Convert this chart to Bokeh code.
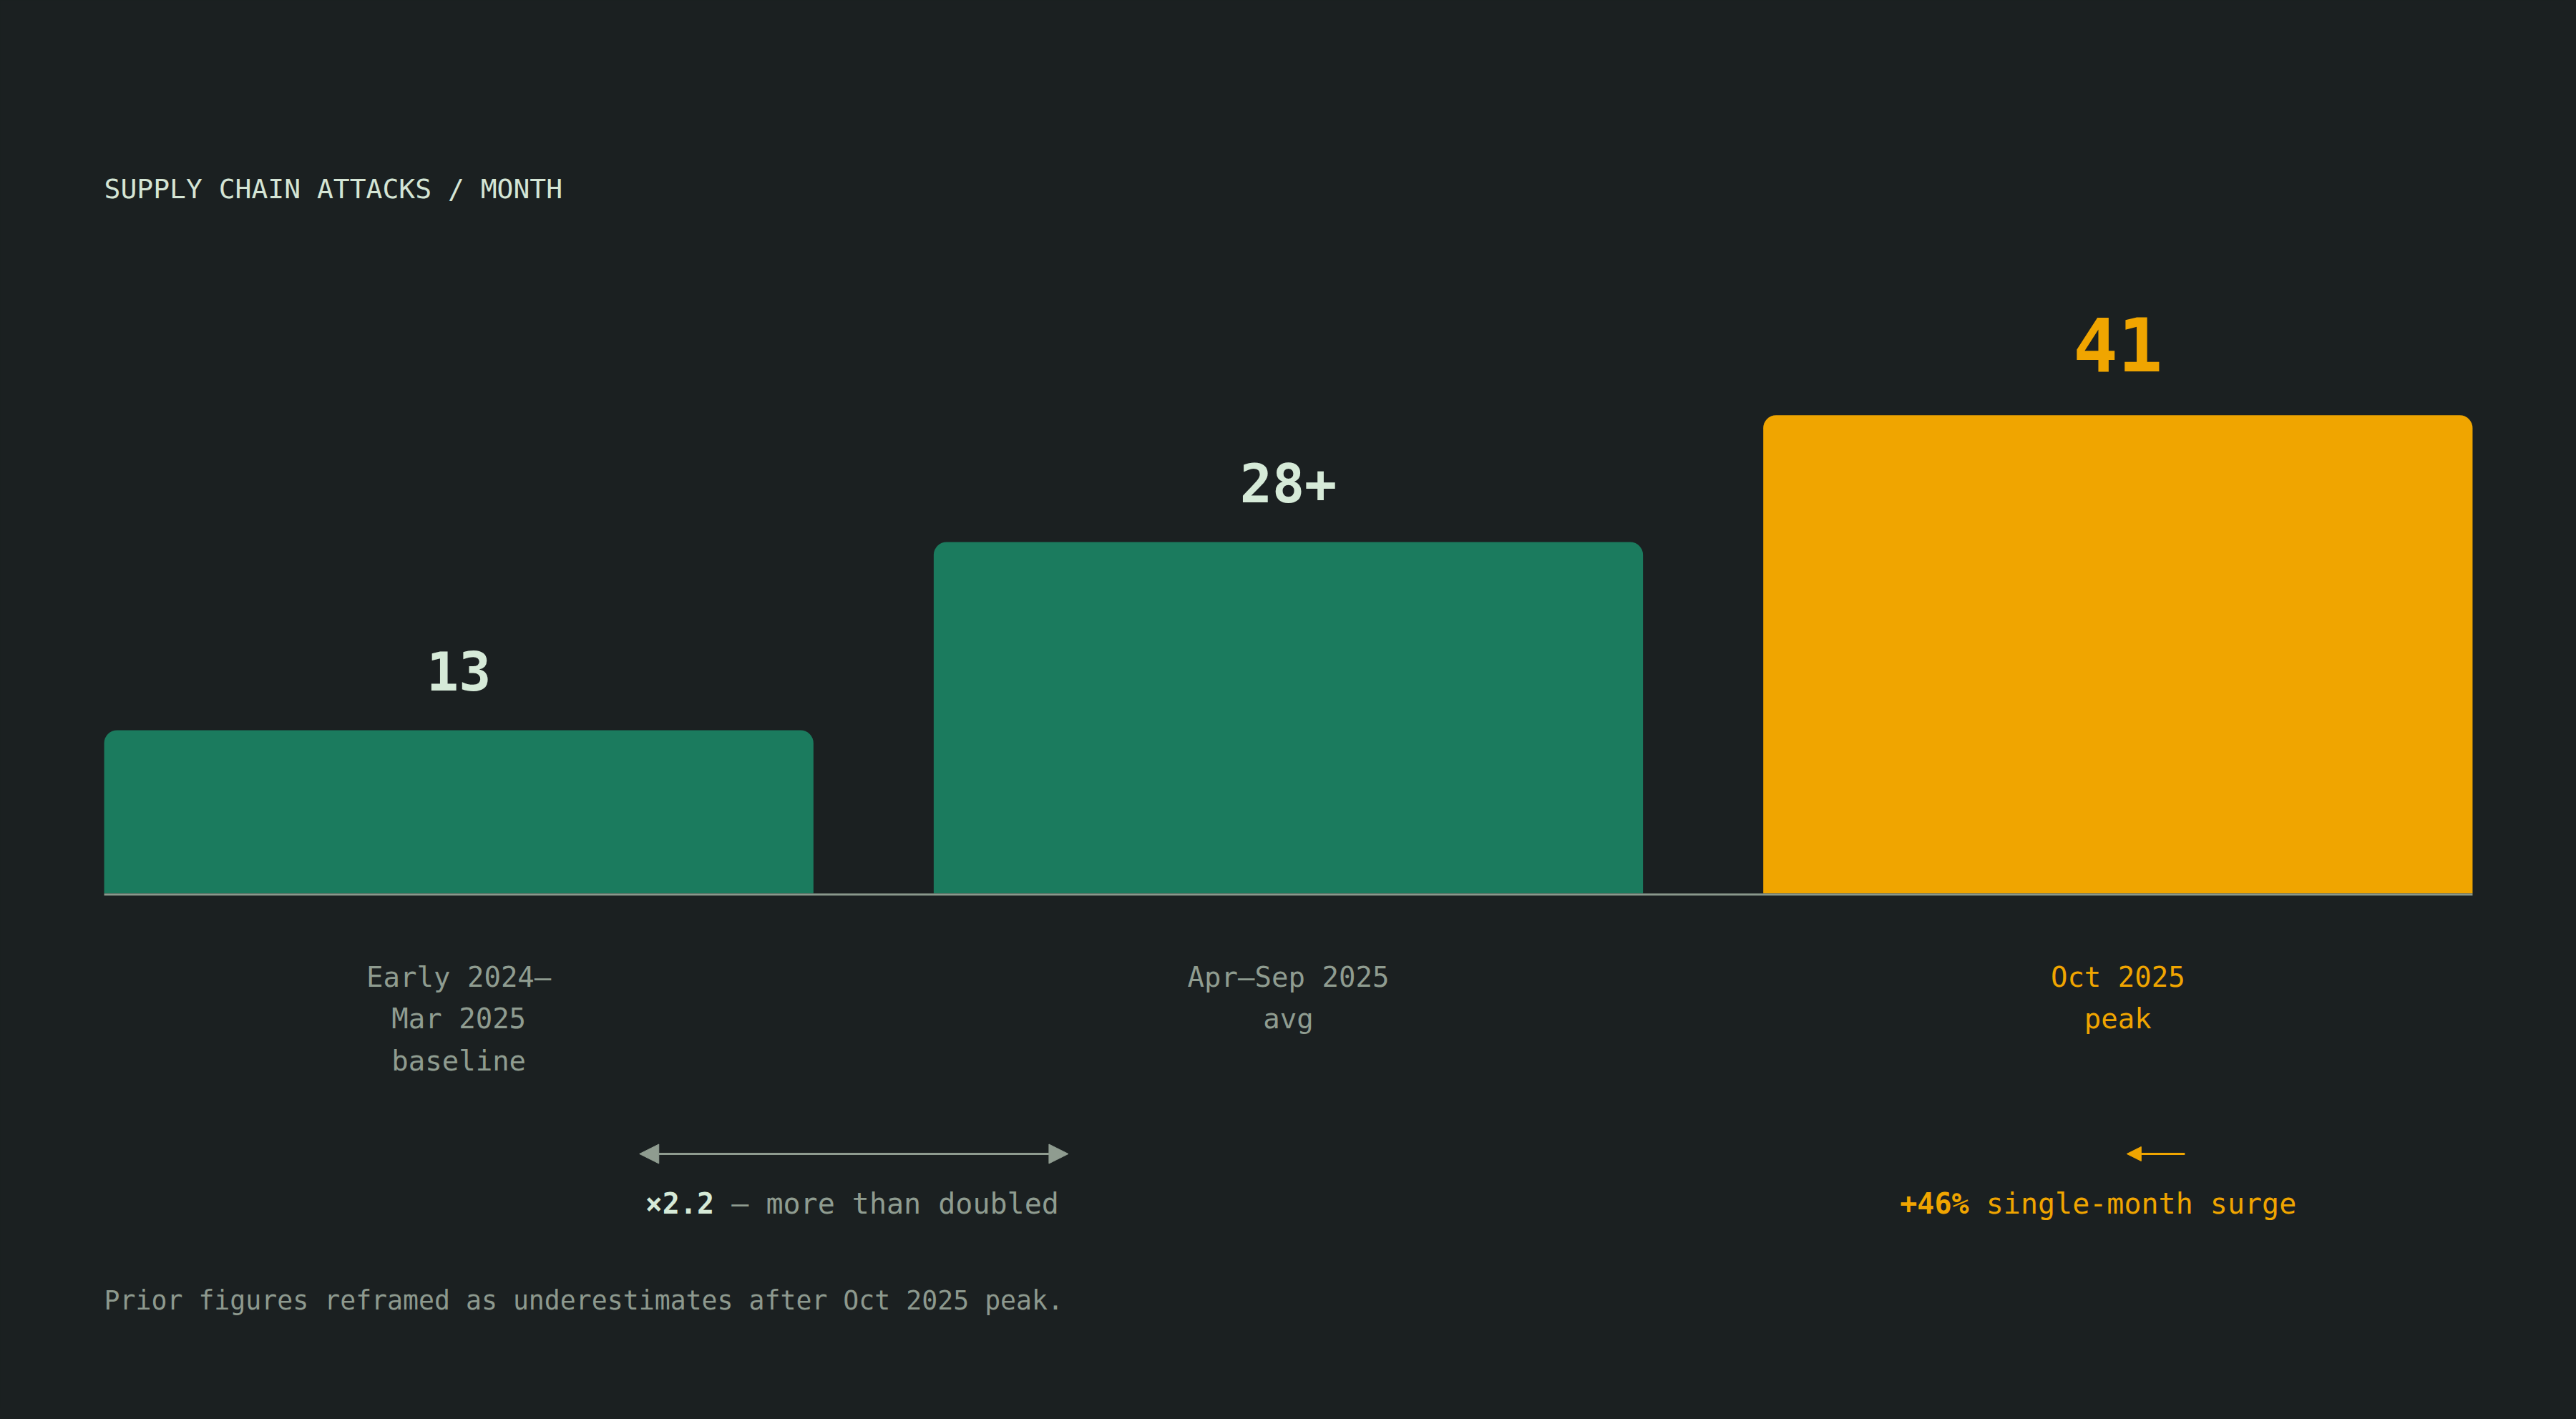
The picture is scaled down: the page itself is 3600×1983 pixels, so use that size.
from bokeh.plotting import figure
from bokeh.models import ColumnDataSource, Range1d, Arrow, NormalHead, GlobalInlineStyleSheet
from bokeh.core.properties import value
from bokeh.embed import file_html
from bokeh.resources import INLINE

# ---------------- data ----------------
categories = ["Early 2024\u2013\nMar 2025\nbaseline", "Apr\u2013Sep 2025\navg", "Oct 2025\npeak"]
bar_heights = [13, 28, 38.1]
value_labels = ["13", "28+", "41"]
highlight = [False, False, True]

title_text = "SUPPLY CHAIN ATTACKS / MONTH"
footnote_text = "Prior figures reframed as underestimates after Oct 2025 peak."
growth_bold, growth_rest = "\u00d72.2", "\u2014 more than doubled"
surge_bold, surge_rest = "+46%", "single-month surge"

# ---------------- style ----------------
BG = "#1b2021"
GREEN = "#1b7b5e"
ORANGE = "#f0a500"
MUTED = "#8f9c90"
LIGHT = "#d6ead8"
AXIS = "#8a988c"
MONO = "DejaVu Sans Mono"

W, H = 3584, 1967
OFF = 0                     # figure origin on the page
LEFT_PX, RIGHT_PX = 145, 3455
BASE_PX = 1248
UNIT_PX = 17.54             # pixels per attack
STEP_PX = 1159              # pixels per category step
BAR_W = 991 / STEP_PX

x_start = -BAR_W / 2 - (LEFT_PX - OFF) / STEP_PX
x_end = (len(categories) - 1) + BAR_W / 2 + (OFF + W - RIGHT_PX) / STEP_PX
y_start = -(OFF + H - BASE_PX) / UNIT_PX
y_end = (BASE_PX - OFF) / UNIT_PX


def px_x(px):
    return x_start + (px - OFF) / STEP_PX


def px_y(py, fs=0):
    # baseline position on the page, nudged for the renderer's baseline handling
    return (BASE_PX - py + (0.36 * fs - 1 if fs else 0)) / UNIT_PX


p = figure(width=W, height=H, output_backend="svg", toolbar_location=None,
           x_range=Range1d(x_start, x_end), y_range=Range1d(y_start, y_end),
           x_axis_type=None, y_axis_type=None, min_border=0)
p.background_fill_color = BG
p.border_fill_color = BG
p.outline_line_color = None
p.grid.visible = False
p.stylesheets = [GlobalInlineStyleSheet(css="html, body { background-color: #1b2021 !important; }")]

xs = list(range(len(categories)))
bar_colors = [ORANGE if h else GREEN for h in highlight]

bars = ColumnDataSource(dict(x=xs, top=bar_heights, color=bar_colors))
p.vbar(x="x", top="top", bottom=0, width=BAR_W, source=bars,
       fill_color="color", line_color=None, border_radius=(18, 18, 0, 0))

# baseline
p.segment(x0=[-BAR_W / 2], x1=[xs[-1] + BAR_W / 2], y0=[-1.5 / UNIT_PX], y1=[-1.5 / UNIT_PX],
          line_color=AXIS, line_width=3)

# value labels
for i, (b, lab, h) in enumerate(zip(bar_heights, value_labels, highlight)):
    gap = 63 if h else 56.5
    fs = 104 if h else 75
    p.text(x=[xs[i]], y=[b + (gap + 0.36 * fs - 1) / UNIT_PX], text=[lab],
           text_color=ORANGE if h else LIGHT,
           text_font_size=value(f"{fs}px"),
           text_font=value(MONO), text_font_style="bold",
           text_align="center", text_baseline="alphabetic")

# category labels
for i, (cat, h) in enumerate(zip(categories, highlight)):
    lines = cat.split("\n")
    p.text(x=[xs[i]] * len(lines),
           y=[px_y(BASE_PX + 130 + j * 58.5, 39) for j in range(len(lines))],
           text=lines, text_color=ORANGE if h else MUTED,
           text_font=value(MONO), text_font_size=value("39px"),
           text_align="center", text_baseline="alphabetic")

# title & footnote
p.text(x=[px_x(145)], y=[px_y(276, 38)], text=[title_text], text_color="#d5e5d5",
       text_font=value(MONO), text_font_size=value("38px"),
       text_align="left", text_baseline="alphabetic")
p.text(x=[px_x(145)], y=[px_y(1829, 36.5)], text=[footnote_text], text_color="#8d998e",
       text_font=value(MONO), text_font_size=value("36.5px"),
       text_align="left", text_baseline="alphabetic")

# growth annotation (gray double arrow)
CH = 24.1
p.add_layout(Arrow(start=NormalHead(size=27, fill_color=MUTED, line_color=MUTED),
                   end=NormalHead(size=27, fill_color=MUTED, line_color=MUTED),
                   x_start=px_x(893), y_start=px_y(1612), x_end=px_x(1492), y_end=px_y(1612),
                   line_color=MUTED, line_width=3))
p.text(x=[px_x(901)], y=[px_y(1695, 40)], text=[growth_bold], text_color=LIGHT,
       text_font=value(MONO), text_font_size=value("40px"), text_font_style="bold",
       text_align="left", text_baseline="alphabetic")
p.text(x=[px_x(901 + 5 * CH)], y=[px_y(1695, 40)], text=[growth_rest], text_color=MUTED,
       text_font=value(MONO), text_font_size=value("40px"),
       text_align="left", text_baseline="alphabetic")

# surge annotation (orange arrow)
p.add_layout(Arrow(end=NormalHead(size=20, fill_color=ORANGE, line_color=ORANGE),
                   start=None,
                   x_start=px_x(3052), y_start=px_y(1612), x_end=px_x(2971), y_end=px_y(1612),
                   line_color=ORANGE, line_width=3))
p.text(x=[px_x(2654)], y=[px_y(1695, 40)], text=[surge_bold], text_color=ORANGE,
       text_font=value(MONO), text_font_size=value("40px"), text_font_style="bold",
       text_align="left", text_baseline="alphabetic")
p.text(x=[px_x(2654 + 5 * CH)], y=[px_y(1695, 40)], text=[surge_rest], text_color=ORANGE,
       text_font=value(MONO), text_font_size=value("40px"),
       text_align="left", text_baseline="alphabetic")

open("out.html", "w").write(file_html(p, INLINE))
